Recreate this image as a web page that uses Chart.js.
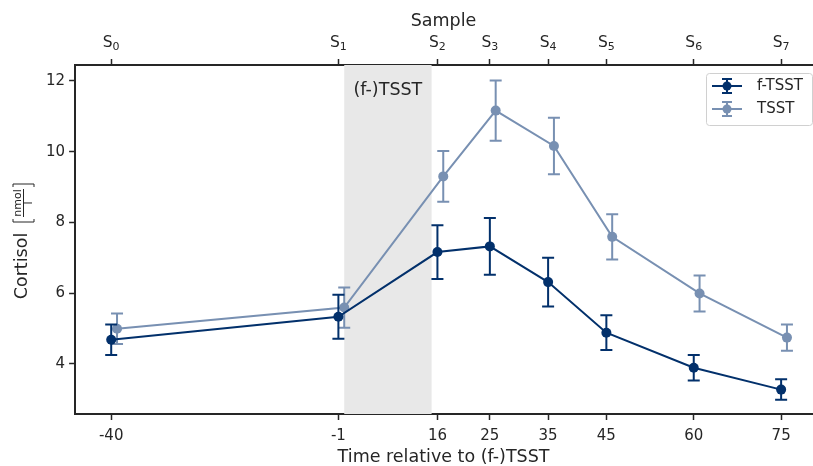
<!DOCTYPE html>
<html>
<head>
<meta charset="utf-8">
<script src="https://cdn.jsdelivr.net/npm/chart.js@4"></script>
<style>
  body { margin: 0; background: #fff; }
  #wrap { width: 813px; height: 466px; position: relative; }
</style>
</head>
<body>
<div id="wrap"><canvas id="chart"></canvas></div>
<script>
// ---- data ----
const timeTicks = [-40, -1, 16, 25, 35, 45, 60, 75];
const sampleLabels = ['0', '1', '2', '3', '4', '5', '6', '7'];  // S with subscript
const yTicks = [4, 6, 8, 10, 12];

const fTsstX = [-40, -1, 16, 25, 35, 45, 60, 75];
const fTsstMean = [4.68, 5.33, 7.16, 7.32, 6.31, 4.88, 3.89, 3.27];
const fTsstErr = [0.43, 0.62, 0.76, 0.80, 0.69, 0.49, 0.36, 0.29];

const tsstX = [-39, 0, 17, 26, 36, 46, 61, 76];
const tsstMean = [4.99, 5.59, 9.30, 11.16, 10.16, 7.59, 5.99, 4.74];
const tsstErr = [0.43, 0.57, 0.72, 0.85, 0.80, 0.64, 0.51, 0.37];

const stressWindow = [0, 15];

const DARK = '#02306b';
const LIGHT = '#7890b2';
const TXT = '#262626';
const FONT = 'DejaVu Sans';

function toPts(xs, ys) { return xs.map((x, i) => ({ x: x, y: ys[i] })); }

// shaded (f-)TSST window
const shadePlugin = {
  id: 'shade',
  beforeDatasetsDraw(chart) {
    const { ctx, chartArea, scales } = chart;
    const x0 = scales.x.getPixelForValue(stressWindow[0]);
    const x1 = scales.x.getPixelForValue(stressWindow[1]);
    ctx.save();
    ctx.fillStyle = '#e8e8e8';
    ctx.fillRect(x0, chartArea.top, x1 - x0, chartArea.bottom - chartArea.top);
    ctx.fillStyle = TXT;
    ctx.font = '17.5px ' + FONT;
    ctx.textAlign = 'center';
    ctx.textBaseline = 'middle';
    ctx.fillText('(f-)TSST', (x0 + x1) / 2, chartArea.top + 25);
    ctx.restore();
  }
};

// error bars, drawn just under each dataset
const errPlugin = {
  id: 'errbars',
  beforeDatasetDraw(chart, args) {
    const ds = chart.data.datasets[args.index];
    if (!ds.err) return;
    const { ctx, scales } = chart;
    ctx.save();
    ctx.strokeStyle = ds.borderColor;
    ctx.lineWidth = 2;
    ds.data.forEach((p, i) => {
      const x = scales.x.getPixelForValue(p.x);
      const yt = scales.y.getPixelForValue(p.y + ds.err[i]);
      const yb = scales.y.getPixelForValue(p.y - ds.err[i]);
      ctx.beginPath();
      ctx.moveTo(x, yt); ctx.lineTo(x, yb);
      ctx.moveTo(x - 6, yt); ctx.lineTo(x + 6, yt);
      ctx.moveTo(x - 6, yb); ctx.lineTo(x + 6, yb);
      ctx.stroke();
    });
    ctx.restore();
  }
};

// y title with unit fraction, top sample labels, legend box
const decoPlugin = {
  id: 'deco',
  afterDraw(chart) {
    const { ctx, scales } = chart;
    ctx.save();
    // y axis label
    ctx.translate(22, 0);
    ctx.rotate(-Math.PI / 2);
    ctx.fillStyle = TXT;
    ctx.font = '17.5px ' + FONT;
    ctx.textAlign = 'center';
    ctx.textBaseline = 'middle';
    ctx.fillText('Cortisol', -266, 0);
    // [nmol / l]
    const cy = -203;
    ctx.strokeStyle = TXT;
    ctx.lineWidth = 1;
    ctx.beginPath();
    ctx.moveTo(cy - 16, -9); ctx.lineTo(cy - 19, -9); ctx.lineTo(cy - 19, 12); ctx.lineTo(cy - 16, 12);
    ctx.moveTo(cy + 16, -9); ctx.lineTo(cy + 19, -9); ctx.lineTo(cy + 19, 12); ctx.lineTo(cy + 16, 12);
    ctx.moveTo(cy - 14, 1.5); ctx.lineTo(cy + 14, 1.5);
    ctx.stroke();
    ctx.font = '11px ' + FONT;
    ctx.fillText('nmol', cy, -4);
    ctx.fillText('l', cy, 7.5);
    ctx.restore();

    // top tick labels S with subscript digit
    ctx.save();
    ctx.fillStyle = TXT;
    ctx.textBaseline = 'alphabetic';
    timeTicks.forEach((v, i) => {
      const x = scales.x2.getPixelForValue(v);
      ctx.font = '15.5px ' + FONT;
      const sw = ctx.measureText('S').width;
      ctx.font = '11px ' + FONT;
      const dw = ctx.measureText(sampleLabels[i]).width;
      const x0 = x - (sw + dw) / 2;
      ctx.font = '15.5px ' + FONT;
      ctx.fillText('S', x0, 47);
      ctx.font = '11px ' + FONT;
      ctx.fillText(sampleLabels[i], x0 + sw, 50);
    });
    ctx.restore();

    // legend
    const lx = 706, ly = 73, lw = 106, lh = 52;
    ctx.save();
    ctx.fillStyle = 'rgba(255,255,255,0.8)';
    ctx.strokeStyle = '#d0d0d0';
    ctx.lineWidth = 1;
    ctx.beginPath();
    ctx.roundRect(lx + 0.5, ly + 0.5, lw, lh, 3);
    ctx.fill();
    ctx.stroke();
    chart.data.datasets.forEach((ds, i) => {
      const y = ly + 13 + i * 23;
      const cx = lx + 21;
      ctx.strokeStyle = ds.borderColor;
      ctx.fillStyle = ds.borderColor;
      ctx.lineWidth = 2;
      ctx.beginPath();
      ctx.moveTo(cx - 15, y); ctx.lineTo(cx + 15, y);
      ctx.moveTo(cx, y - 7); ctx.lineTo(cx, y + 7);
      ctx.moveTo(cx - 5, y - 7); ctx.lineTo(cx + 5, y - 7);
      ctx.moveTo(cx - 5, y + 7); ctx.lineTo(cx + 5, y + 7);
      ctx.stroke();
      ctx.beginPath();
      ctx.arc(cx, y, 4.5, 0, Math.PI * 2);
      ctx.fill();
      ctx.fillStyle = TXT;
      ctx.font = '15px ' + FONT;
      ctx.textBaseline = 'middle';
      ctx.fillText(ds.label, lx + 51, y);
    });
    ctx.restore();
  }
};

const axisCommon = {
  border: { color: TXT, width: 2 },
  grid: { drawOnChartArea: false, drawTicks: true, tickLength: 6, tickWidth: 1.5, color: TXT },
};

new Chart(document.getElementById('chart'), {
  type: 'line',
  data: {
    datasets: [
      {
        label: 'f-TSST',
        data: toPts(fTsstX, fTsstMean),
        err: fTsstErr,
        borderColor: DARK,
        backgroundColor: DARK,
        borderWidth: 2,
        pointRadius: 5,
        pointBorderWidth: 0,
        tension: 0
      },
      {
        label: 'TSST',
        data: toPts(tsstX, tsstMean),
        err: tsstErr,
        borderColor: LIGHT,
        backgroundColor: LIGHT,
        borderWidth: 2,
        pointRadius: 5,
        pointBorderWidth: 0,
        tension: 0
      }
    ]
  },
  options: {
    responsive: true,
    maintainAspectRatio: false,
    animation: false,
    layout: { autoPadding: false, padding: { left: 42, right: 1, top: 11, bottom: -9 } },
    plugins: { legend: { display: false }, tooltip: { enabled: false } },
    scales: {
      x: {
        ...axisCommon,
        type: 'linear',
        position: 'bottom',
        min: -46.2, max: 80.3,
        afterBuildTicks: ax => { ax.ticks = timeTicks.map(v => ({ value: v })); },
        ticks: { color: TXT, font: { family: FONT, size: 15 }, padding: 7, maxRotation: 0,
                 callback: v => String(v) },
        title: { display: true, text: 'Time relative to (f-)TSST', color: TXT,
                 font: { family: FONT, size: 17.5 }, padding: { top: -5, bottom: 7 } }
      },
      x2: {
        ...axisCommon,
        type: 'linear',
        position: 'top',
        min: -46.2, max: 80.3,
        afterBuildTicks: ax => { ax.ticks = timeTicks.map(v => ({ value: v })); },
        // labels reserved here, drawn with real subscripts in the deco plugin
        ticks: { color: 'rgba(0,0,0,0)', font: { family: FONT, size: 15 }, padding: 3, maxRotation: 0,
                 callback: v => 'S' + sampleLabels[timeTicks.indexOf(v)] },
        title: { display: true, text: 'Sample', color: TXT,
                 font: { family: FONT, size: 17.5 }, padding: { top: 0, bottom: 3 } }
      },
      y: {
        ...axisCommon,
        min: 2.58, max: 12.45,
        afterBuildTicks: ax => { ax.ticks = yTicks.map(v => ({ value: v })); },
        ticks: { color: TXT, font: { family: FONT, size: 15 }, padding: 4 }
      }
    }
  },
  plugins: [shadePlugin, errPlugin, decoPlugin]
});
</script>
</body>
</html>
